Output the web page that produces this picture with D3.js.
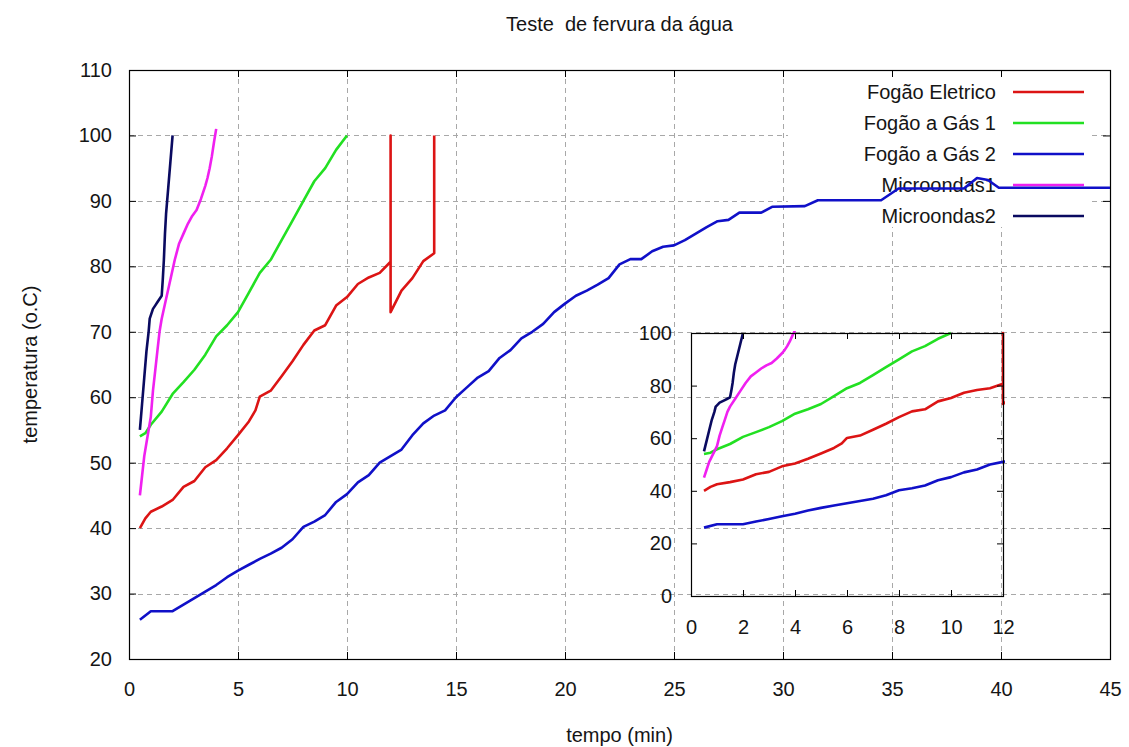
<!DOCTYPE html>
<html><head><meta charset="utf-8">
<script src="https://cdn.jsdelivr.net/npm/d3@7"></script>
<style>
body{margin:0;background:#fff}
svg text{font-family:"Liberation Sans",Arial,sans-serif;fill:#151515}
</style></head>
<body><svg id="c" width="1129" height="747"></svg>
<script>
// ---- data ----
const titleText = "Teste  de fervura da água";
const xLabel = "tempo (min)";
const yLabel = "temperatura (o.C)";
const seriesNames = ["Fogão Eletrico","Fogão a Gás 1","Fogão a Gás 2","Microondas1","Microondas2"];
const seriesColors = ["#dc1414","#22e022","#1010c8","#f020f0","#0a0a60"];
const xTicksMain = [0,5,10,15,20,25,30,35,40,45];
const yTicksMain = [20,30,40,50,60,70,80,90,100,110];
const xTicksInset = [0,2,4,6,8,10,12];
const yTicksInset = [0,20,40,60,80,100];

const eletrico = [[0.5,40],[0.75,41.5],[1,42.5],[1.5,43.3],[2,44.3],[2.5,46.3],[3,47.2],[3.5,49.3],[4,50.4],[4.5,52.2],[5,54.2],[5.5,56.3],[5.8,58],[6,60.1],[6.5,61],[7,63.2],[7.5,65.5],[8,68],[8.5,70.2],[9,71],[9.5,74],[10,75.3],[10.5,77.3],[11,78.3],[11.5,79],[12,80.7],[12,100],[12,73],[12.5,76.3],[13,78.2],[13.5,80.8],[14,82],[14,100]];
const gas1 = [[0.5,54],[0.75,54.5],[1,55.8],[1.5,57.8],[2,60.5],[2.5,62.3],[3,64.2],[3.5,66.5],[4,69.3],[4.5,71],[5,73],[5.5,76],[6,79],[6.5,81],[7,84],[7.5,87],[8,90],[8.5,93],[9,95],[9.5,97.8],[10,100]];
const gas2 = [[0.5,26],[1,27.3],[2,27.3],[2.5,28.3],[3,29.3],[3.5,30.3],[4,31.3],[4.5,32.5],[5,33.5],[5.5,34.4],[6,35.3],[6.5,36.1],[7,37],[7.5,38.3],[8,40.2],[8.5,41],[9,42],[9.5,44],[10,45.2],[10.5,47],[11,48.1],[11.5,50],[12,51],[12.5,52],[13,54.2],[13.5,56],[14,57.2],[14.5,58],[15,60],[15.5,61.5],[16,63],[16.5,64],[17,66],[17.5,67.2],[18,69],[18.5,70],[19,71.2],[19.5,73],[20,74.3],[20.5,75.5],[21,76.3],[21.5,77.2],[22,78.2],[22.5,80.3],[23,81.1],[23.5,81.1],[24,82.3],[24.5,83],[25,83.2],[25.5,84],[26,85],[26.5,86],[27,86.9],[27.5,87.1],[28,88.2],[29,88.2],[29.5,89.1],[31,89.2],[31.6,90.1],[34.5,90.1],[35.3,91.9],[38.3,91.9],[38.9,93.5],[39.4,93.2],[39.9,92],[45,92]];
const micro1 = [[0.5,45],[0.6,48],[0.7,51],[0.8,53],[0.9,55],[1,57],[1.1,61],[1.2,64],[1.3,67],[1.4,70],[1.5,72],[1.7,75],[1.9,78],[2.1,81],[2.3,83.5],[2.5,85],[2.7,86.5],[2.9,87.7],[3.1,88.6],[3.3,90.3],[3.5,92.3],[3.6,93.5],[3.7,95],[3.8,96.8],[3.9,99],[4,101]];
const micro2 = [[0.5,55],[0.55,57],[0.6,59],[0.7,63],[0.8,67],[0.9,70],[0.95,72],[1,72.5],[1.1,73.5],[1.2,74],[1.3,74.5],[1.4,75],[1.5,75.5],[1.55,78],[1.6,81],[1.65,85],[1.7,88],[1.8,92],[1.9,96],[2,100]];
const allSeries = [eletrico, gas1, gas2, micro1, micro2];

// ---- layout ----
const svg = d3.select("#c");
const M = {l:129, r:1110, t:70, b:659};
const I = {l:691, r:1003, t:333, b:596};
const x = d3.scaleLinear().domain([0,45]).range([M.l,M.r]);
const y = d3.scaleLinear().domain([20,110]).range([M.b,M.t]);
const xi = d3.scaleLinear().domain([0,12]).range([I.l,I.r]);
const yi = d3.scaleLinear().domain([0,100]).range([I.b,I.t]);
const FS = 20;

// grid
const grid = svg.append("g").attr("stroke","#a8a8a8").attr("stroke-width",1).attr("stroke-dasharray","5,4");
grid.selectAll(".gx").data(xTicksMain.slice(1,-1)).join("line")
  .attr("x1",d=>Math.round(x(d))+0.5).attr("x2",d=>Math.round(x(d))+0.5).attr("y1",M.t).attr("y2",M.b);
grid.selectAll(".gy").data(yTicksMain.slice(1,-1)).join("line")
  .attr("y1",d=>Math.round(y(d))+0.5).attr("y2",d=>Math.round(y(d))+0.5).attr("x1",M.l).attr("x2",M.r);

// legend background
svg.append("rect").attr("x",788).attr("y",M.t+1).attr("width",1092-788).attr("height",227-M.t-1).attr("fill","#fff");

// main axes
function styleAxis(g){ g.select(".domain").remove(); g.selectAll("line").attr("stroke","#000"); g.selectAll("text").attr("font-size",FS).attr("fill","#151515").attr("font-family",null); }
svg.append("g").attr("transform",`translate(0,${M.b})`)
  .call(d3.axisBottom(x).tickValues(xTicksMain).tickSizeInner(-7).tickSizeOuter(0).tickPadding(23).tickFormat(d3.format("d"))).call(styleAxis);
svg.append("g").attr("transform",`translate(0,${M.t})`)
  .call(d3.axisTop(x).tickValues(xTicksMain).tickSizeInner(-7).tickSizeOuter(0).tickFormat("")).call(styleAxis);
svg.append("g").attr("transform",`translate(${M.l},0)`)
  .call(d3.axisLeft(y).tickValues(yTicksMain).tickSizeInner(-7).tickSizeOuter(0).tickPadding(17).tickFormat(d3.format("d"))).call(styleAxis);
svg.append("g").attr("transform",`translate(${M.r},0)`)
  .call(d3.axisRight(y).tickValues(yTicksMain).tickSizeInner(-7).tickSizeOuter(0).tickFormat("")).call(styleAxis);
svg.append("rect").attr("x",M.l+0.5).attr("y",M.t+0.5).attr("width",M.r-M.l).attr("height",M.b-M.t)
  .attr("fill","none").attr("stroke","#000").attr("stroke-width",1.2);

// titles
svg.append("text").attr("x",(M.l+M.r)/2).attr("y",31).attr("text-anchor","middle").attr("font-size",FS)
  .style("white-space","pre").text(titleText);
svg.append("text").attr("x",(M.l+M.r)/2).attr("y",742).attr("text-anchor","middle").attr("font-size",FS).text(xLabel);
svg.append("text").attr("transform",`translate(37,${(M.t+M.b)/2}) rotate(-90)`).attr("text-anchor","middle").attr("font-size",FS).text(yLabel);

// legend
const lg = svg.append("g");
const rowY = d3.scaleLinear().domain([0,4]).range([92,216]);
seriesNames.forEach((n,i)=>{
  lg.append("text").attr("x",996).attr("y",rowY(i)).attr("dy","0.35em").attr("text-anchor","end").attr("font-size",FS).text(n);
  lg.append("line").attr("x1",1013).attr("x2",1084).attr("y1",rowY(i)).attr("y2",rowY(i))
    .attr("stroke",seriesColors[i]).attr("stroke-width",2.6);
});

// main lines
const defs = svg.append("defs");
defs.append("clipPath").attr("id","cm").append("rect").attr("x",M.l).attr("y",M.t).attr("width",M.r-M.l).attr("height",M.b-M.t);
defs.append("clipPath").attr("id","ci").append("rect").attr("x",I.l).attr("y",I.t-2).attr("width",I.r-I.l+2).attr("height",I.b-I.t+2);
const lineM = d3.line().x(d=>x(d[0])).y(d=>y(d[1]));
const gm = svg.append("g").attr("clip-path","url(#cm)");
allSeries.forEach((s,i)=>{
  gm.append("path").datum(s).attr("d",lineM).attr("fill","none").attr("stroke",seriesColors[i])
    .attr("stroke-width",2.6).attr("stroke-linejoin","round");
});

// inset
const lineI = d3.line().x(d=>xi(d[0])).y(d=>yi(d[1]));
const gi = svg.append("g").attr("clip-path","url(#ci)");
allSeries.forEach((s,i)=>{
  gi.append("path").datum(s).attr("d",lineI).attr("fill","none").attr("stroke",seriesColors[i])
    .attr("stroke-width",2.6).attr("stroke-linejoin","round");
});
svg.append("g").attr("transform",`translate(0,${I.b})`)
  .call(d3.axisBottom(xi).tickValues(xTicksInset).tickSizeInner(-6).tickSizeOuter(0).tickPadding(24).tickFormat(d3.format("d"))).call(styleAxis);
svg.append("g").attr("transform",`translate(0,${I.t})`)
  .call(d3.axisTop(xi).tickValues(xTicksInset).tickSizeInner(-6).tickSizeOuter(0).tickFormat("")).call(styleAxis);
svg.append("g").attr("transform",`translate(${I.l},0)`)
  .call(d3.axisLeft(yi).tickValues(yTicksInset).tickSizeInner(-6).tickSizeOuter(0).tickPadding(19).tickFormat(d3.format("d"))).call(styleAxis);
svg.append("g").attr("transform",`translate(${I.r},0)`)
  .call(d3.axisRight(yi).tickValues(yTicksInset).tickSizeInner(-6).tickSizeOuter(0).tickFormat("")).call(styleAxis);
svg.append("rect").attr("x",I.l+0.5).attr("y",I.t+0.5).attr("width",I.r-I.l).attr("height",I.b-I.t)
  .attr("fill","none").attr("stroke","#000").attr("stroke-width",1.2);
</script></body></html>
